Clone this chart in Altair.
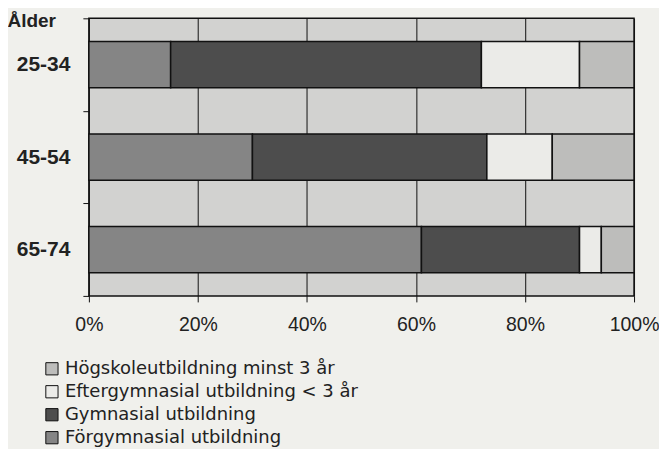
import altair as alt
import pandas as pd

ages = ["25-34", "45-54", "65-74"]
categories = [
    "Förgymnasial utbildning",
    "Gymnasial utbildning",
    "Eftergymnasial utbildning < 3 år",
    "Högskoleutbildning minst 3 år",
]
forgymnasial = [15, 30, 61]
gymnasial = [57, 43, 29]
eftergymnasial = [18, 12, 4]
hogskola = [10, 15, 6]

legend_order = [categories[3], categories[2], categories[1], categories[0]]
colors = ["#bdbdbb", "#ebebe8", "#4d4d4d", "#858585"]

rows = []
for i, a in enumerate(ages):
    for k, (c, vals) in enumerate(zip(categories, [forgymnasial, gymnasial, eftergymnasial, hogskola])):
        rows.append({"age": a, "cat": c, "value": vals[i], "ord": k})
df = pd.DataFrame(rows)

font = "Liberation Sans"

chart = (
    alt.Chart(df)
    .mark_bar(stroke="#111111", strokeWidth=1.5, opacity=1, height=alt.RelativeBandSize(0.5))
    .encode(
        x=alt.X(
            "value:Q",
            stack="normalize",
            scale=alt.Scale(domain=[0, 1], nice=False),
            axis=alt.Axis(
                values=[0, 0.2, 0.4, 0.6, 0.8, 1.0],
                format="%",
                grid=True,
                gridColor="#111111",
                gridWidth=1,
                gridOpacity=1,
                domain=False,
                tickColor="#111111",
                tickSize=6,
                tickWidth=1,
                labelFlush=False,
                labelFont=font,
                labelFontSize=19.5,
                labelColor="#222222",
                labelPadding=14,
                title=None,
            ),
        ),
        y=alt.Y(
            "age:N",
            sort=ages,
            scale=alt.Scale(paddingInner=0, paddingOuter=0),
            axis=alt.Axis(
                title="Ålder",
                titleAngle=0,
                titleAlign="left",
                titleBaseline="alphabetic",
                titleX=-82,
                titleY=8,
                titleFont=font,
                titleFontSize=19,
                titleFontWeight="bold",
                titleColor="#222222",
                tickBand="extent",
                tickSize=6,
                tickColor="#111111",
                tickWidth=1,
                domain=False,
                labelFont=font,
                labelFontSize=21,
                labelFontWeight="bold",
                labelColor="#222222",
                labelPadding=13,
            ),
        ),
        color=alt.Color(
            "cat:N",
            scale=alt.Scale(domain=legend_order, range=colors),
            legend=alt.Legend(
                title=None,
                orient="none",
                legendX=-46,
                legendY=342,
                direction="vertical",
                symbolType="square",
                symbolSize=150,
                symbolStrokeColor="#111111",
                symbolStrokeWidth=1,
                symbolOpacity=1,
                labelFont="DejaVu Sans",
                labelFontSize=18,
                labelColor="#222222",
                labelOffset=4,
                rowPadding=5,
                labelLimit=400,
            ),
        ),
        order=alt.Order("ord:Q"),
    )
    .properties(
        width=546,
        height=278,
        background="#f0f0ec",
        autosize=alt.AutoSizeParams(type="none"),
        padding={"left": 81, "top": 10, "right": 25, "bottom": 160},
    )
    .configure_view(fill="#d2d2d0", stroke="#111111", strokeWidth=1.5)
)

chart.save("out.html", embed_options={"renderer": "svg", "actions": False})
